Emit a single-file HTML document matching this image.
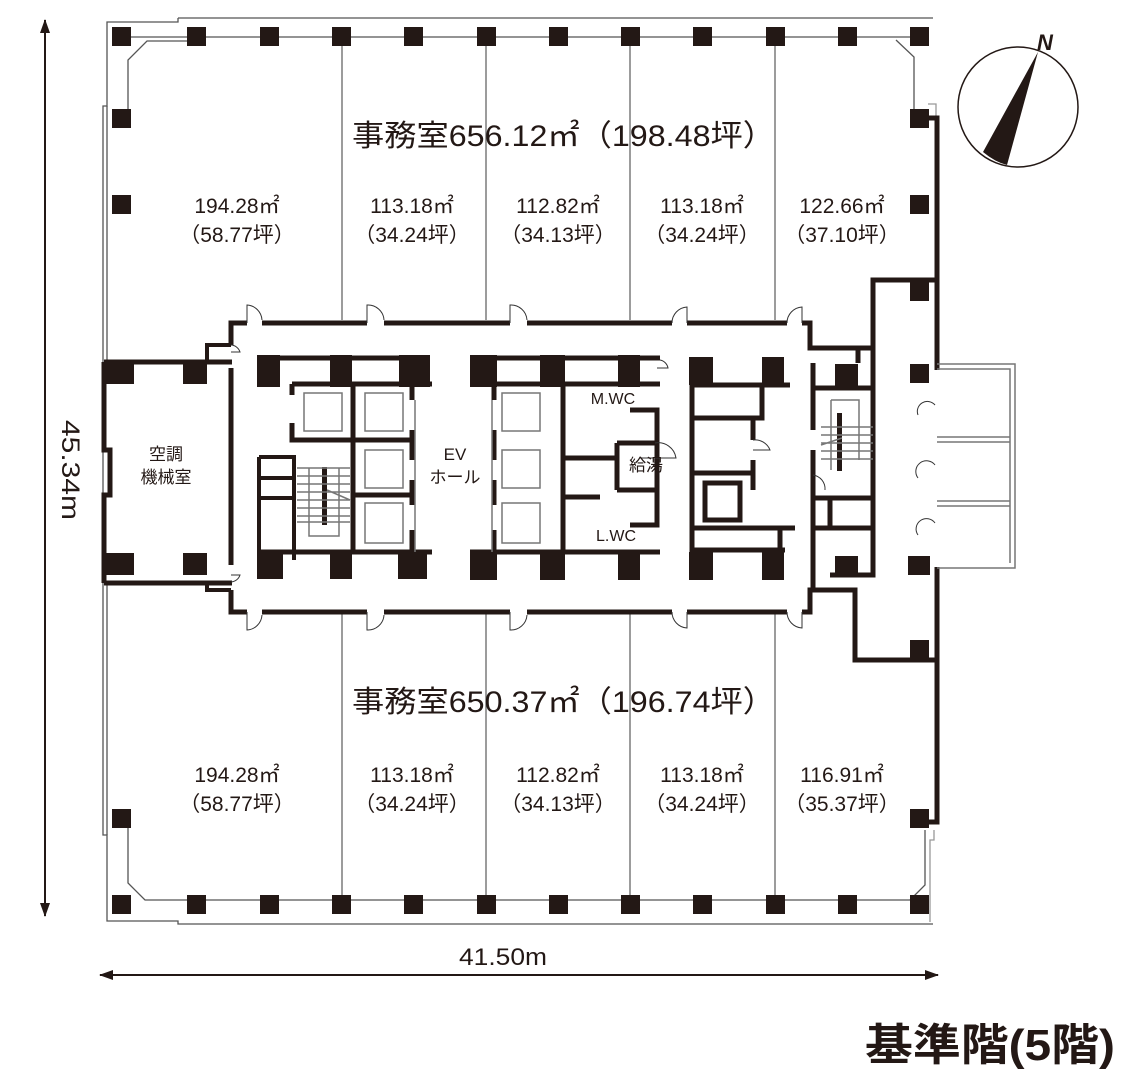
<!DOCTYPE html>
<html><head><meta charset="utf-8"><style>
html,body{margin:0;padding:0;background:#fff}
svg{display:block}
text{font-family:"Liberation Sans","Noto Sans CJK JP",sans-serif;fill:#231815}
</style></head><body>
<svg width="1129" height="1090" viewBox="0 0 1129 1090" xmlns="http://www.w3.org/2000/svg">
<defs>
<marker id="ah" markerWidth="14" markerHeight="10" refX="13" refY="5" orient="auto" markerUnits="userSpaceOnUse"><path d="M0,0 L14,5 L0,10 Z" fill="#231815"/></marker>
</defs>
<g fill="none" stroke="#555" stroke-width="1.3">
<path d="M178,18 H933 M178,18 V22 H107 V106 H103 V835 H107 V921 H178 V924 H933"/>
<path d="M130,37 H920 M128,116 V60 L147,41 H190 M128,818 V883 L145,900 H910 M910,900 L925,885 V830"/>
<path d="M896,40 L914,57 V110" stroke="#555"/>
<path d="M934,830 V840 H930 V922" stroke="#999"/>
<path d="M928,104 H936 V118" stroke="#999"/>
<path d="M342,37 V320 M486,37 V320 M630,37 V320 M775,37 V320 M342,612 V904 M486,612 V904 M630,612 V904 M775,612 V904" stroke="#666"/>
<path d="M107,106 V360 M107,584 V835" stroke="#555"/>
</g>
<g fill="#231815">
<rect x="112" y="27" width="19" height="19"/><rect x="187" y="27" width="19" height="19"/><rect x="260" y="27" width="19" height="19"/><rect x="332" y="27" width="19" height="19"/><rect x="404" y="27" width="19" height="19"/><rect x="477" y="27" width="19" height="19"/><rect x="549" y="27" width="19" height="19"/><rect x="621" y="27" width="19" height="19"/><rect x="693" y="27" width="19" height="19"/><rect x="766" y="27" width="19" height="19"/><rect x="838" y="27" width="19" height="19"/><rect x="910" y="27" width="19" height="19"/>
<rect x="112" y="109" width="19" height="19"/><rect x="112" y="195" width="19" height="19"/><rect x="910" y="109" width="19" height="19"/><rect x="910" y="195" width="19" height="19"/>
<rect x="910" y="280" width="19" height="21"/><rect x="910" y="364" width="19" height="19"/><rect x="908" y="556" width="22" height="19"/><rect x="910" y="640" width="19" height="19"/>
<rect x="112" y="809" width="19" height="19"/><rect x="910" y="809" width="19" height="19"/>
<rect x="112" y="895" width="19" height="19"/><rect x="187" y="895" width="19" height="19"/><rect x="260" y="895" width="19" height="19"/><rect x="332" y="895" width="19" height="19"/><rect x="404" y="895" width="19" height="19"/><rect x="477" y="895" width="19" height="19"/><rect x="549" y="895" width="19" height="19"/><rect x="621" y="895" width="19" height="19"/><rect x="693" y="895" width="19" height="19"/><rect x="766" y="895" width="19" height="19"/><rect x="838" y="895" width="19" height="19"/><rect x="910" y="895" width="19" height="19"/>
</g>
<g fill="none" stroke="#231815" stroke-width="5">
<path d="M929,118 H937 V370 M937,567 V822 H929"/>
<path d="M231,345 V323 H247 M262,323 H367 M384,323 H510 M527,323 H672 M687,323 H787 M802,323 H810 V348 H873 V280 H937"/>
<path d="M231,590 V612 H247 M262,612 H367 M384,612 H510 M527,612 H672 M687,612 H787 M802,612 H810 V590 H855 V660 H937"/>
<path d="M873,348 V575 H855"/>
<path d="M231,368 V565"/>
<path d="M104,362 H232 M104,583 H232 M104,362 V450 H110 V495 H104 V583" />
<path d="M207,362 V345 H231 M207,583 V590 H231" stroke-width="4"/>
<path d="M257,358 H430 M292,384 H432 M292,384 V395 M292,423 V440 H413 M353,384 V552 M353,495 H413 M412,384 V400 M412,430 V460 M412,480 V505 M412,530 V552 M257,552 H432"/>
<path d="M259,457 H294 V560 M259,457 V560 M259,478 H294 M259,498 H294" stroke-width="4"/>
<path d="M470,358 H660 M470,384 H660 M494,384 V400 M494,430 V460 M494,480 V505 M494,530 V552 M563,384 V552 M563,458 H615 M563,497 H600 M630,410 H657 V525 H630 M617,443 V490 M617,443 H657 M617,490 H657 M470,552 H660"/>
<path d="M692,357 V580 M692,385 H790 M762,385 V418 H692 M753,420 V440 M753,460 V490 M692,473 H753 M692,528 H795 M692,550 H785 M780,528 V550"/>
<rect x="705" y="483" width="35" height="37" stroke-width="5"/>
<path d="M813,363 V388 H873 M813,388 V430 M813,450 V590 M813,498 H873 M813,528 H873 M830,498 V528 M830,575 H873 M858,348 V363"/>
</g>
<g fill="#231815">
<rect x="104" y="362" width="30" height="22"/><rect x="183" y="362" width="24" height="22"/>
<rect x="104" y="553" width="30" height="22"/><rect x="183" y="553" width="24" height="22"/>
<rect x="257" y="355" width="23" height="32"/><rect x="330" y="355" width="22" height="32"/><rect x="399" y="355" width="31" height="32"/>
<rect x="257" y="552" width="26" height="27"/><rect x="330" y="552" width="22" height="27"/><rect x="398" y="552" width="29" height="27"/>
<rect x="470" y="355" width="27" height="32"/><rect x="540" y="355" width="25" height="32"/><rect x="618" y="355" width="22" height="32"/>
<rect x="470" y="552" width="27" height="28"/><rect x="540" y="552" width="25" height="28"/><rect x="618" y="552" width="22" height="28"/>
<rect x="689" y="357" width="24" height="28"/><rect x="762" y="357" width="22" height="28"/>
<rect x="689" y="552" width="24" height="28"/><rect x="762" y="552" width="22" height="28"/>
<rect x="835" y="364" width="23" height="24"/><rect x="835" y="556" width="23" height="20"/>
<rect x="322" y="467" width="5" height="58"/><rect x="837" y="413" width="5" height="58"/>
</g>
<g fill="none" stroke="#777" stroke-width="1.5">
<rect x="304" y="393" width="38" height="38"/><rect x="365" y="393" width="38" height="38"/><rect x="365" y="450" width="38" height="38"/><rect x="365" y="503" width="38" height="40"/>
<rect x="502" y="393" width="38" height="38"/><rect x="502" y="450" width="38" height="38"/><rect x="502" y="503" width="38" height="40"/>
<path d="M297,468 H350 M297,476 H350 M297,484 H350 M297,492 H350 M297,500 H350 M297,508 H350 M297,516 H350 M297,522 H350 M309,468 V536 H339 V468 M327,490 L350,500"/>
<path d="M821,427 H873 M821,435 H873 M821,443 H873 M821,451 H873 M821,459 H873 M831,400 H859 V460 M831,400 V470 M821,445 L842,438"/>
<path d="M415,400 V552 M492,400 V552"/>
<path d="M937,364 H1015 V568 H937 M937,369 H1010 V563 M937,437 H1010 M937,442 H1010 M937,501 H1010 M937,506 H1010"/>
</g>
<g fill="none" stroke="#333" stroke-width="1">
<path d="M247,323 V305 A16,16 0 0 1 262,320"/><path d="M367,323 V305 A16,16 0 0 1 384,320"/><path d="M510,323 V305 A16,16 0 0 1 527,320"/><path d="M672,323 A16,16 0 0 1 687,307 V323"/><path d="M787,323 A16,16 0 0 1 802,307 V323"/>
<path d="M247,612 V630 A16,16 0 0 0 262,615"/><path d="M367,612 V630 A16,16 0 0 0 384,615"/><path d="M510,612 V630 A16,16 0 0 0 527,615"/><path d="M672,612 A16,16 0 0 0 687,628 V612"/><path d="M787,612 A16,16 0 0 0 802,628 V612"/>
<path d="M231,352 H240 A10,10 0 0 0 231,345"/><path d="M231,575 H240 A10,10 0 0 1 231,582"/>
<path d="M657,368 H668 A10,10 0 0 0 660,360"/><path d="M640,458 H676 A18,18 0 0 0 655,443"/>
<path d="M753,440 A16,16 0 0 1 770,450 H753"/><path d="M813,475 A14,14 0 0 1 825,490"/><path d="M935,405 A10,10 0 0 0 918,415"/><path d="M935,465 A10,10 0 0 0 918,478"/><path d="M935,523 A10,10 0 0 0 918,535"/>
</g>
<circle cx="1018" cy="107" r="60" fill="none" stroke="#231815" stroke-width="1.5"/>
<path d="M1038,52 L983,152 Q995,162 1007,165 Z" fill="#231815"/>
<text x="1045" y="50" font-size="22" font-weight="bold" font-style="italic" text-anchor="middle">N</text>
<line x1="45" y1="40" x2="45" y2="20" stroke="#231815" stroke-width="2" marker-end="url(#ah)"/>
<line x1="45" y1="40" x2="45" y2="916" stroke="#231815" stroke-width="2" marker-end="url(#ah)"/>
<line x1="120" y1="975" x2="100" y2="975" stroke="#231815" stroke-width="2" marker-end="url(#ah)"/>
<line x1="120" y1="975" x2="938" y2="975" stroke="#231815" stroke-width="2" marker-end="url(#ah)"/>
<text x="62" y="470" font-size="25" text-anchor="middle" transform="rotate(90 62 470)" textLength="100" lengthAdjust="spacingAndGlyphs">45.34m</text>
<text x="503" y="965" font-size="24" text-anchor="middle" textLength="88" lengthAdjust="spacingAndGlyphs">41.50m</text>
<text x="865" y="1060" font-size="44" font-weight="bold" textLength="250" lengthAdjust="spacingAndGlyphs">基準階(5階)</text>
<text x="352" y="146" font-size="30" textLength="423" lengthAdjust="spacingAndGlyphs">事務室656.12㎡（198.48坪）</text>
<text x="352" y="712" font-size="30" textLength="423" lengthAdjust="spacingAndGlyphs">事務室650.37㎡（196.74坪）</text>
<g font-size="21" text-anchor="middle">
<text x="237" y="213">194.28㎡</text><text x="237" y="242">（58.77坪）</text>
<text x="412" y="213">113.18㎡</text><text x="412" y="242">（34.24坪）</text>
<text x="558" y="213">112.82㎡</text><text x="558" y="242">（34.13坪）</text>
<text x="702" y="213">113.18㎡</text><text x="702" y="242">（34.24坪）</text>
<text x="842" y="213">122.66㎡</text><text x="842" y="242">（37.10坪）</text>
<text x="237" y="782">194.28㎡</text><text x="237" y="811">（58.77坪）</text>
<text x="412" y="782">113.18㎡</text><text x="412" y="811">（34.24坪）</text>
<text x="558" y="782">112.82㎡</text><text x="558" y="811">（34.13坪）</text>
<text x="702" y="782">113.18㎡</text><text x="702" y="811">（34.24坪）</text>
<text x="842" y="782">116.91㎡</text><text x="842" y="811">（35.37坪）</text>
</g>
<g font-size="17" text-anchor="middle">
<text x="166" y="460">空調</text><text x="166" y="483">機械室</text>
<text x="455" y="460">EV</text><text x="455" y="483">ホール</text>
<text x="613" y="404" font-size="16">M.WC</text><text x="646" y="471">給湯</text><text x="616" y="541" font-size="16">L.WC</text>
</g>
</svg>
</body></html>
